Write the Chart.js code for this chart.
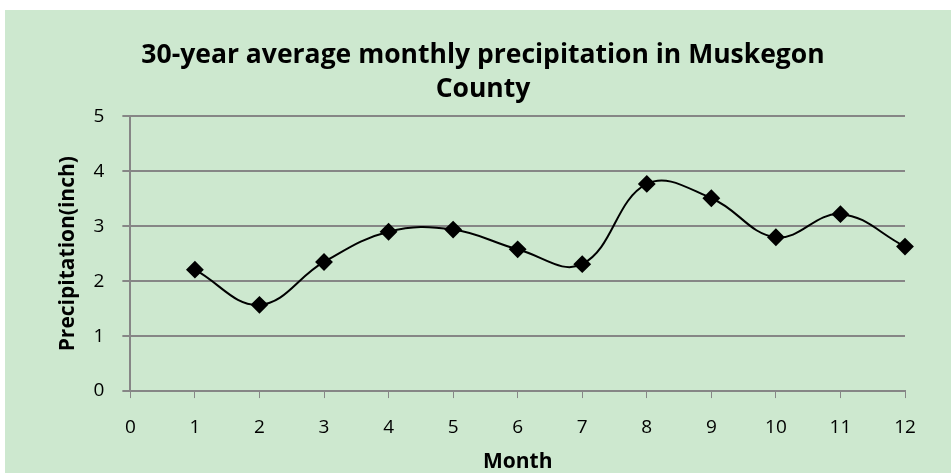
<!DOCTYPE html>
<html>
<head>
<meta charset="utf-8">
<script src="https://cdn.jsdelivr.net/npm/chart.js@4"></script>
<style>
  body { margin: 0; background: #ffffff; }
  .panel { position: absolute; left: 5px; top: 10px; width: 946px; height: 463px; background: #cde8cf; }
</style>
</head>
<body>
<div class="panel"><canvas id="precipChart" width="946" height="463"></canvas></div>
<script>
const months = [1, 2, 3, 4, 5, 6, 7, 8, 9, 10, 11, 12];
const precipitation = [2.21, 1.57, 2.35, 2.90, 2.94, 2.58, 2.31, 3.77, 3.51, 2.80, 3.22, 2.63];
const chartTitle = ['30-year average monthly precipitation in Muskegon', 'County'];

const fontFamily = '"Open Sans", sans-serif';

const ctx = document.getElementById('precipChart').getContext('2d');
const precipChart = new Chart(ctx, {
    type: 'line',
    data: {
        datasets: [{
            label: 'Precipitation',
            data: months.map((m, i) => ({ x: m, y: precipitation[i] })),
            borderColor: '#000000',
            backgroundColor: '#000000',
            borderWidth: 2,
            pointStyle: 'rectRot',
            pointRadius: 7.5,
            tension: 0.4,
            fill: false,
            clip: false // keep the last diamond whole at the right edge
        }]
    },
    options: {
        responsive: false,
        animation: false,
        layout: { padding: { left: 56, right: 46, top: 0, bottom: 5 } },
        plugins: {
            legend: { display: false },
            tooltip: { enabled: false },
            title: {
                display: true,
                text: chartTitle,
                color: '#000000',
                font: { family: fontFamily, size: 26.5, weight: 'bold', lineHeight: 1.29 },
                padding: { top: 28, bottom: 10 }
            }
        },
        scales: {
            x: {
                type: 'linear',
                min: 0,
                max: 12,
                ticks: { stepSize: 1, color: '#000000', font: { family: fontFamily, size: 19 }, padding: 18 },
                grid: { drawOnChartArea: false, color: '#868686', tickLength: 7, tickColor: '#868686' },
                border: { color: '#868686', width: 2 },
                title: { display: true, text: 'Month', color: '#000000', font: { family: fontFamily, size: 21, weight: 'bold', lineHeight: 0.53 }, padding: 0 }
            },
            y: {
                min: 0,
                max: 5,
                ticks: { stepSize: 1, color: '#000000', font: { family: fontFamily, size: 19 }, padding: 18 },
                grid: { color: '#868686', lineWidth: 2, tickLength: 8 },
                border: { color: '#868686', width: 2 },
                title: { display: true, text: 'Precipitation(inch)', color: '#000000', font: { family: fontFamily, size: 21, weight: 'bold', lineHeight: 0.69 }, padding: 0 }
            }
        }
    }
});
</script>
</body>
</html>
